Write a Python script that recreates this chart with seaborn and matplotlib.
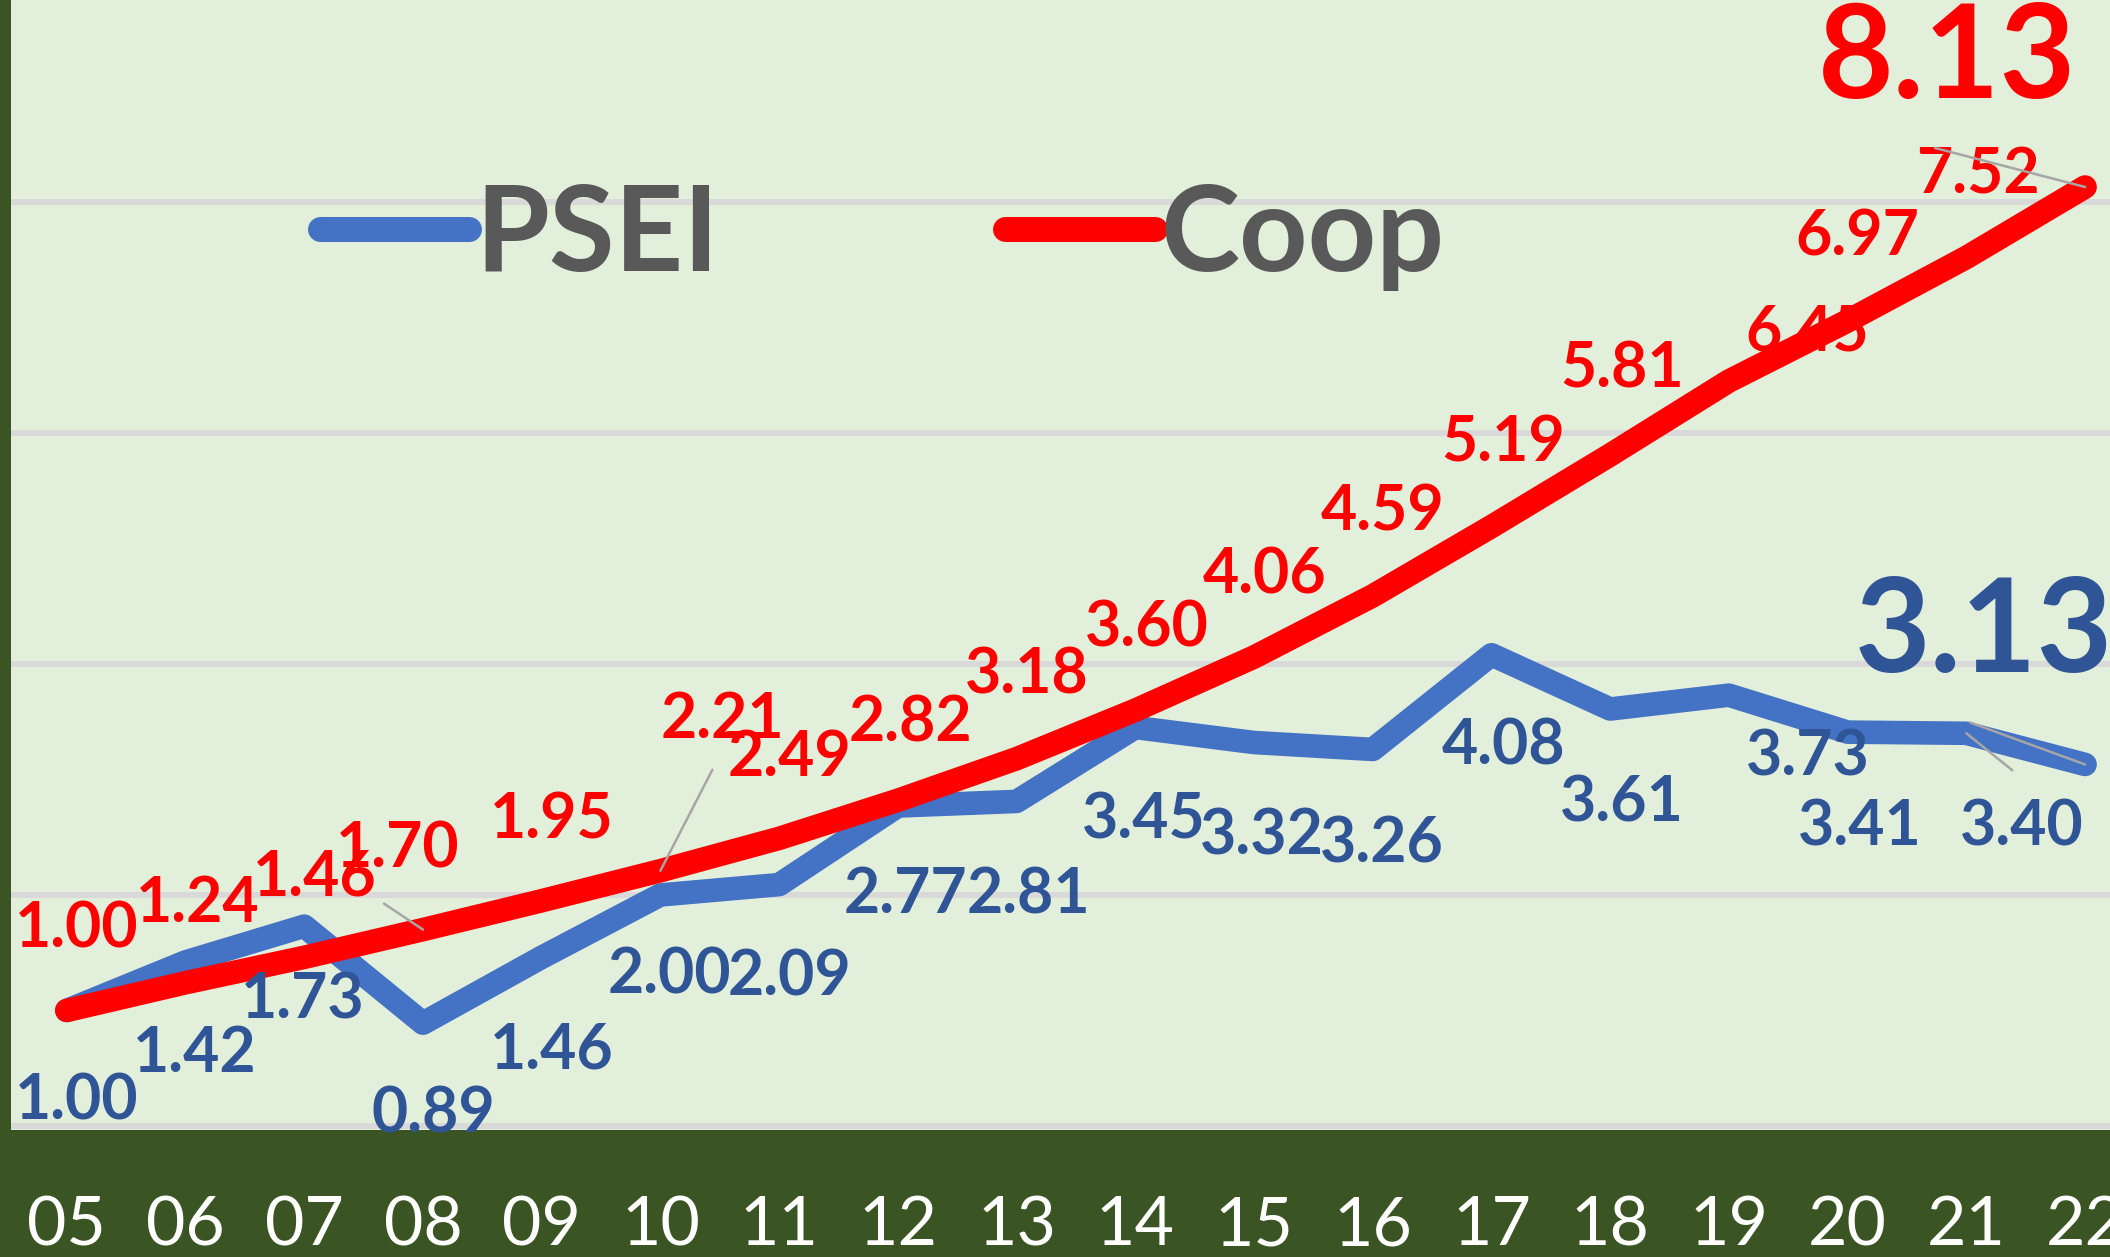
import matplotlib
matplotlib.use("Agg")
import matplotlib.pyplot as plt
import numpy as np
import pandas as pd
import seaborn as sns

# ---- data ----
years = ['05', '06', '07', '08', '09', '10', '11', '12', '13', '14',
         '15', '16', '17', '18', '19', '20', '21', '22']
psei = [1.00, 1.42, 1.73, 0.89, 1.46, 2.00, 2.09, 2.77, 2.81, 3.45,
        3.32, 3.26, 4.08, 3.61, 3.73, 3.41, 3.40, 3.13]
coop = [1.00, 1.24, 1.46, 1.70, 1.95, 2.21, 2.49, 2.82, 3.18, 3.60,
        4.06, 4.59, 5.19, 5.81, 6.45, 6.97, 7.52, 8.13]
series_names = ['PSEI', 'Coop']

# ---- label placement (pixels, screen: +x right, +y down) ----
coop_off = [(10, -81), (12, -79), (11, -80), (-25, -80), (10, -80), (62, -151),
            (10, -80), (13, -77), (10, -83), (12, -82), (11, -82), (10, -83),
            (12, -83), (12, -85), (78, -49), (10, -83), (12, -82), (-138, -126)]
psei_off = [(10, 91), (9, 92), (-1, 74), (10, 91), (10, 93), (9, 81), (10, 93),
            (8, 89), (12, 94), (9, 93), (8, 94), (9, 95), (12, 92), (12, 94),
            (79, 62), (12, 95), (55, 94), (-101, -130)]

BG = '#E2EFDA'
DARK = '#3A5423'
BLUE = '#4472C4'
BLUE_TXT = '#2F5597'
RED = '#FF0000'
GRID = '#D9D9D9'
LEAD = '#A6A6A6'

plt.rcParams['font.family'] = ['Lato', 'DejaVu Sans']

df = pd.DataFrame({
    'idx': list(range(len(years))) * 2,
    'value': psei + coop,
    'series': [series_names[0]] * len(years) + [series_names[1]] * len(years),
})

W, H = 2110, 1257
fig = plt.figure(figsize=(W / 100, H / 100), dpi=100, facecolor=DARK)
ax = fig.add_axes([11 / W, (H - 1130) / H, 2099 / W, 1130 / H])
ax.set_facecolor(BG)

sns.lineplot(data=df, x='idx', y='value', hue='series', hue_order=series_names,
             palette={'PSEI': BLUE, 'Coop': RED}, linewidth=17, sort=False,
             solid_capstyle='round', solid_joinstyle='round', ax=ax, zorder=3)

ax.set_xlim(-0.47, 17.21)
ax.set_ylim(-0.035, 9.749)
ax.set_yticks([0, 2, 4, 6, 8])
ax.set_yticklabels([])
ax.grid(axis='y', color=GRID, linewidth=4.3)
ax.grid(axis='x', visible=False)
ax.set_axisbelow(True)
ax.set_xticks(range(len(years)))
ax.set_xticklabels(years, color='white', fontsize=49)
ax.tick_params(axis='both', length=0)
ax.tick_params(axis='x', pad=47)
ax.set_xlabel('')
ax.set_ylabel('')
for s in ax.spines.values():
    s.set_visible(False)

# legend
handles, labels = ax.get_legend_handles_labels()
leg = ax.legend(handles, labels, loc='center', bbox_to_anchor=(0.415, 0.79),
                ncol=2, frameon=False, handlelength=1.25, handletextpad=0.05,
                columnspacing=2.4, prop={'size': 86, 'weight': 'bold'})
for t in leg.get_texts():
    t.set_color('#595959')
for lh in leg.get_lines():
    lh.set_linewidth(18)
    lh.set_solid_capstyle('round')


def put_labels(vals, offs, color):
    n = len(vals)
    for i, (v, (dx, dy)) in enumerate(zip(vals, offs)):
        big = (i == n - 1)
        ax.annotate(f'{v:.2f}', xy=(i, v), xytext=(dx, -dy),
                    textcoords='offset pixels', ha='center', va='center',
                    color=color, fontweight='bold',
                    fontsize=94 if big else 45, zorder=6)


put_labels(coop, coop_off, RED)
put_labels(psei, psei_off, BLUE_TXT)


def leader(i, vals, dx, dy):
    ax.annotate('', xy=(i, vals[i]), xytext=(dx, dy), textcoords='offset pixels',
                arrowprops=dict(arrowstyle='-', color=LEAD, lw=1.8,
                                shrinkA=0, shrinkB=0), zorder=7)


leader(3, coop, -39, 26)
leader(5, coop, 52, 101)
leader(17, coop, -150, 39)
leader(16, psei, 46, -37)
leader(17, psei, -115, 42)

fig.savefig('out.png', dpi=100, facecolor=DARK)
